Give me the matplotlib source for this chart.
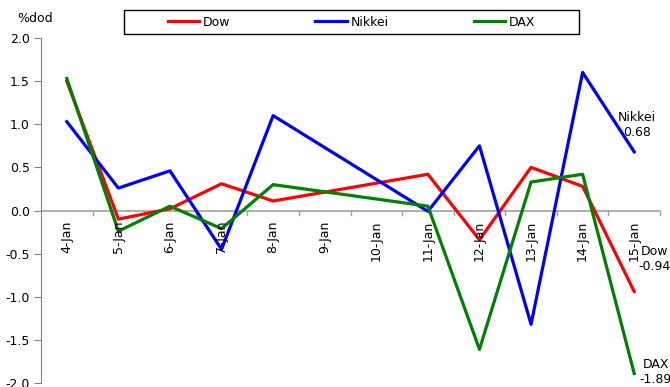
import matplotlib
matplotlib.use('Agg')
import matplotlib.pyplot as plt
from matplotlib.patches import Rectangle

# calendar days shown on the axis (4-Jan .. 15-Jan), data only on trading days
days = [4, 5, 6, 7, 8, 9, 10, 11, 12, 13, 14, 15]
day_labels = [f'{d}-Jan' for d in days]
trade_days = [4, 5, 6, 7, 8, 11, 12, 13, 14, 15]

dow = [1.50, -0.10, 0.02, 0.31, 0.11, 0.42, -0.34, 0.50, 0.28, -0.94]
nikkei = [1.03, 0.26, 0.46, -0.45, 1.10, -0.01, 0.75, -1.32, 1.60, 0.68]
dax = [1.53, -0.24, 0.05, -0.21, 0.30, 0.05, -1.61, 0.33, 0.42, -1.89]

series = [('Dow', dow, '#FF0000'), ('Nikkei', nikkei, '#0000FF'), ('DAX', dax, '#008000')]

plt.rcParams['font.family'] = ['DejaVu Sans']
fs = 9

fig = plt.figure(figsize=(6.70, 3.87), dpi=100)
ax = fig.add_axes([41 / 670, 1 - 383 / 387, (660 - 41) / 670, (383 - 38) / 387])

for name, vals, color in series:
    ax.plot(trade_days, vals, color=color, lw=2.3, label=name)

ax.set_xlim(days[0] - 0.5, days[-1] + 0.5)
ax.set_ylim(-2.0, 2.0)
ax.set_yticks([-2.0, -1.5, -1.0, -0.5, 0.0, 0.5, 1.0, 1.5, 2.0])
ax.set_yticklabels([f'{v:.1f}' for v in ax.get_yticks()], fontsize=fs)

for s in ['top', 'right', 'bottom']:
    ax.spines[s].set_visible(False)
ax.spines['left'].set_color('#808080')
ax.tick_params(axis='y', length=5, color='#808080', pad=3)

# x axis drawn at zero, Excel style
ax.axhline(0, color='#A0A0A0', lw=1.2, zorder=0)
ax.set_xticks([])
tick_h = 4 / 345 * 4.0
for b in [d + 0.5 for d in days]:
    ax.plot([b, b], [0, -tick_h], color='#A0A0A0', lw=1, zorder=0, clip_on=False)
for d, lab in zip(days, day_labels):
    ax.text(d, -0.12, lab, rotation=90, ha='center', va='top', fontsize=fs)

fig.text(17 / 670, 1 - 25 / 387, '%dod', fontsize=fs, ha='left', va='bottom')

# end labels
ax.text(15.05, 0.99, 'Nikkei\n0.68', fontsize=fs, ha='center', va='center',
        multialignment='center', linespacing=1.15)
ax.text(15.40, -0.56, 'Dow\n-0.94', fontsize=fs, ha='center', va='center',
        multialignment='center', linespacing=1.15, clip_on=False)
ax.text(15.42, -1.87, 'DAX\n-1.89', fontsize=fs, ha='center', va='center',
        multialignment='center', linespacing=1.15, clip_on=False)

# legend box
fig.patches.append(Rectangle((124 / 670, 1 - 34 / 387), (579 - 124) / 670, 24 / 387,
                             transform=fig.transFigure, fill=False,
                             edgecolor='black', lw=1.0))
fig.legend(loc='center', ncol=3, bbox_to_anchor=(351.5 / 670, 1 - 22 / 387),
           fontsize=fs, frameon=False, handlelength=2.5, handletextpad=0.3,
           columnspacing=6.8, borderaxespad=0, borderpad=0)

fig.savefig('out.png', dpi=100)
